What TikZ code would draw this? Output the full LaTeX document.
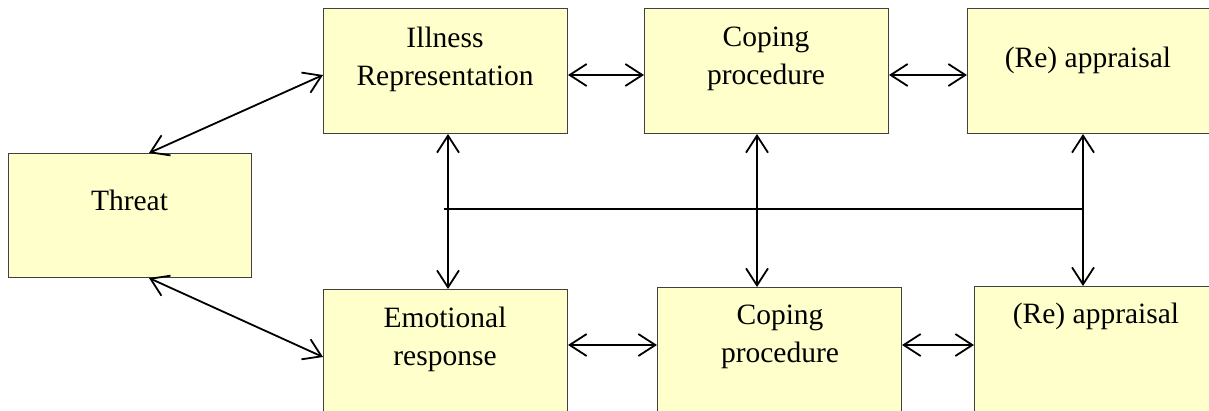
\documentclass[tikz,border=0pt]{standalone}
\usepackage{fontspec}
\setmainfont{Liberation Serif}
\newfontfamily\tnrfont{Liberation Serif}
\usetikzlibrary{arrows.meta,calc}
\definecolor{boxyellow}{RGB}{255,255,204}
\begin{document}
\begin{tikzpicture}[x=1pt,y=-1pt,
  box/.style={draw=black!75, line width=1pt, fill=boxyellow, minimum width=244pt, minimum height=125pt, inner sep=0pt, anchor=north west},
  txt/.style={font=\tnrfont\fontsize{29.5}{38}\selectfont, align=center, inner sep=0pt},
  link/.style={line width=1.8pt, {Straight Barb[length=17pt,width=22pt]}-{Straight Barb[length=17pt,width=22pt]}},
  plain/.style={line width=1.8pt}]
\useasboundingbox (0,0) rectangle (1209,410);
\clip (0,0) rectangle (1209,410);
% boxes
\node[box, minimum width=243pt, minimum height=124pt] (thr) at (8,153) {};
\node[box] (ill) at (323,8) {};
\node[box] (cop1) at (644,8) {};
\node[box] (app1) at (967,8) {};
\node[box] (emo) at (323,289) {};
\node[box] (cop2) at (657,287) {};
\node[box] (app2) at (974,286) {};
% texts
\node[txt] (thrt) at (129.5,200.5) {Threat};
\node[txt] (illt) at (445,59) {Illness\\Representation};
\node[txt] (cop1t) at (766,59) {Coping\\procedure};
\node[txt] (app1t) at (1088,60) {(Re) appraisal};
\node[txt] (emot) at (445,339) {Emotional\\response};
\node[txt] (cop2t) at (780,337) {Coping\\procedure};
\node[txt] (app2t) at (1096,316) {(Re) appraisal};
% connector points
\coordinate (h1) at (444,209);
\coordinate (h2) at (1083,209);
% connectors
\draw[link] ($(thr.north west)+(141,0)$) -- ($(ill.north west)+(0,67)$);
\draw[link] ($(thr.south west)+(141,0)$) -- ($(emo.north west)+(0,68)$);
\draw[link] ($(ill.north east)+(0,67)$) -- ($(cop1.north west)+(0,67)$);
\draw[link] ($(cop1.north east)+(0,67)$) -- ($(app1.north west)+(0,67)$);
\draw[link] ($(emo.north east)+(0,56)$) -- ($(cop2.north west)+(0,58)$);
\draw[link] ($(cop2.north east)+(0,58)$) -- ($(app2.north west)+(0,59)$);
\draw[link] ($(ill.south west)+(125,0)$) -- ($(emo.north west)+(125,0)$);
\draw[link] ($(cop1.south west)+(113,0)$) -- ($(cop2.north west)+(100,0)$);
\draw[link] ($(app1.south west)+(116,0)$) -- ($(app2.north west)+(109,0)$);
\draw[plain] (h1) -- (h2);
\end{tikzpicture}
\end{document}
